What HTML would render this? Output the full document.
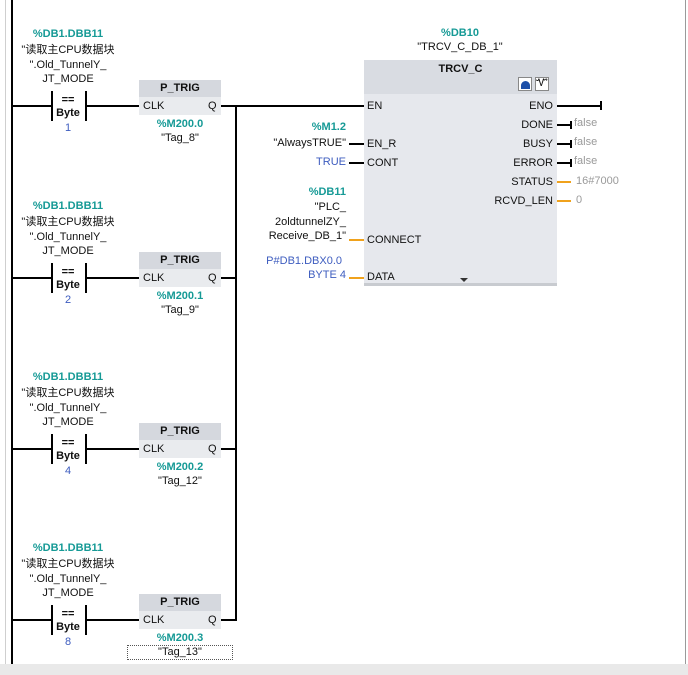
<!DOCTYPE html>
<html><head><meta charset="utf-8"><style>
body{margin:0;width:688px;height:675px;position:relative;background:#fff;overflow:hidden;font-family:"Liberation Sans","Noto Sans CJK SC",sans-serif;font-size:11px;color:#111}
div{position:absolute}
.t{line-height:14px;white-space:nowrap}
.c{text-align:center}
.r{text-align:right}
.teal{color:#169a96;font-weight:bold}
.blue{color:#3d5cbf}
.gray{color:#9a9a9a}
.k{background:#000}
.o{background:#f0a21c}
.b{font-weight:bold}
</style></head><body>
<div style="left:5px;top:0;width:1px;height:664px;background:#cfcfcf"></div>
<div class="k" style="left:11px;top:0;width:2px;height:664px"></div>
<div style="left:685px;top:0;width:1px;height:664px;background:#9a9a9a"></div>
<div style="left:0;top:664px;width:688px;height:11px;background:#e9e9e9"></div>

<!-- vertical Q bus -->
<div class="k" style="left:235px;top:105px;width:2px;height:516px"></div>
<div class="k" style="left:236px;top:105px;width:128px;height:2px"></div>

<!-- rungs -->
<div id="rungs"></div>
<script>
var ys=[106,278,449,620],vals=["1","2","4","8"],ms=["%M200.0","%M200.1","%M200.2","%M200.3"],tags=["\"Tag_8\"","\"Tag_9\"","\"Tag_12\"","\"Tag_13\""];
var h="";
ys.forEach(function(y,i){
 h+='<div class="k" style="left:12px;top:'+(y-1)+'px;width:40px;height:2px"></div>';
 h+='<div class="k" style="left:51px;top:'+(y-15)+'px;width:2px;height:30px"></div>';
 h+='<div class="k" style="left:85px;top:'+(y-15)+'px;width:2px;height:30px"></div>';
 h+='<div class="k" style="left:86px;top:'+(y-1)+'px;width:53px;height:2px"></div>';
 h+='<div class="t c b" style="left:48px;top:'+(y-13)+'px;width:40px">==</div>';
 h+='<div class="t c b" style="left:48px;top:'+(y)+'px;width:40px">Byte</div>';
 h+='<div class="t c blue" style="left:48px;top:'+(y+15)+'px;width:40px">'+vals[i]+'</div>';
 h+='<div class="t c teal" style="left:8px;top:'+(y-79)+'px;width:120px">%DB1.DBB11</div>';
 h+='<div class="t c" style="left:8px;top:'+(y-63)+'px;width:120px">"读取主CPU数据块</div>';
 h+='<div class="t c" style="left:8px;top:'+(y-48)+'px;width:120px">".Old_TunnelY_</div>';
 h+='<div class="t c" style="left:8px;top:'+(y-34)+'px;width:120px">JT_MODE</div>';
 h+='<div style="left:139px;top:'+(y-26)+'px;width:82px;height:17px;background:#d5d8de"></div>';
 h+='<div style="left:139px;top:'+(y-9)+'px;width:82px;height:18px;background:#e9ebee"></div>';
 h+='<div class="t c b" style="left:139px;top:'+(y-25)+'px;width:82px">P_TRIG</div>';
 h+='<div class="t" style="left:143px;top:'+(y-7)+'px">CLK</div>';
 h+='<div class="t" style="left:208px;top:'+(y-7)+'px">Q</div>';
 h+='<div class="k" style="left:221px;top:'+(y-1)+'px;width:15px;height:2px"></div>';
 h+='<div class="t c teal" style="left:130px;top:'+(y+11)+'px;width:100px">'+ms[i]+'</div>';
 h+='<div class="t c" style="left:130px;top:'+(y+25)+'px;width:100px">'+tags[i]+'</div>';
});
h+='<div style="left:127px;top:645px;width:104px;height:13px;border:1px dotted #555"></div>';
document.getElementById("rungs").innerHTML=h;
</script>

<!-- TRCV_C -->
<div class="t c teal" style="left:400px;top:26px;width:120px">%DB10</div>
<div class="t c" style="left:400px;top:40px;width:120px">"TRCV_C_DB_1"</div>
<div style="left:364px;top:60px;width:193px;height:34px;background:#d9dce2"></div>
<div style="left:364px;top:94px;width:193px;height:189px;background:#e6e8ed"></div>
<div style="left:364px;top:283px;width:193px;height:3px;background:#c8cbd0"></div>
<div class="t c b" style="left:364px;top:62px;width:193px">TRCV_C</div>
<div style="left:518px;top:77px;width:14px;height:14px;background:#fff;border:1px solid #888;box-sizing:border-box"><div style="left:2px;top:3px;width:9px;height:8px;background:#1c4fa8;border-radius:5px 5px 0 0"></div></div>
<div style="left:535px;top:77px;width:14px;height:14px;background:#fff;border:1px solid #888;box-sizing:border-box;font-size:10px;line-height:12px;text-align:center">Ꮙ</div>
<div style="left:460px;top:278px;width:0;height:0;border-left:4px solid transparent;border-right:4px solid transparent;border-top:4px solid #333"></div>

<div class="t" style="left:367px;top:99px">EN</div>
<div class="t" style="left:367px;top:137px">EN_R</div>
<div class="t" style="left:367px;top:156px">CONT</div>
<div class="t" style="left:367px;top:233px">CONNECT</div>
<div class="t" style="left:367px;top:270px">DATA</div>
<div class="t r" style="left:450px;top:99px;width:103px">ENO</div>
<div class="t r" style="left:450px;top:118px;width:103px">DONE</div>
<div class="t r" style="left:450px;top:137px;width:103px">BUSY</div>
<div class="t r" style="left:450px;top:156px;width:103px">ERROR</div>
<div class="t r" style="left:450px;top:175px;width:103px">STATUS</div>
<div class="t r" style="left:450px;top:194px;width:103px">RCVD_LEN</div>

<div class="k" style="left:557px;top:105px;width:44px;height:2px"></div>
<div class="k" style="left:600px;top:101px;width:2px;height:9px"></div>
<div class="k" style="left:557px;top:124px;width:14px;height:2px"></div><div class="k" style="left:570px;top:121px;width:2px;height:8px"></div>
<div class="k" style="left:557px;top:143px;width:14px;height:2px"></div><div class="k" style="left:570px;top:140px;width:2px;height:8px"></div>
<div class="k" style="left:557px;top:162px;width:14px;height:2px"></div><div class="k" style="left:570px;top:159px;width:2px;height:8px"></div>
<div class="o" style="left:557px;top:181px;width:14px;height:2px"></div>
<div class="o" style="left:557px;top:200px;width:14px;height:2px"></div>
<div class="t gray" style="left:574px;top:116px">false</div>
<div class="t gray" style="left:574px;top:135px">false</div>
<div class="t gray" style="left:574px;top:154px">false</div>
<div class="t gray" style="left:576px;top:174px">16#7000</div>
<div class="t gray" style="left:576px;top:193px">0</div>

<div class="t teal" style="left:310px;top:120px;width:36px;text-align:right">%M1.2</div>
<div class="t r" style="left:250px;top:136px;width:96px">"AlwaysTRUE"</div>
<div class="k" style="left:349px;top:143px;width:15px;height:2px"></div>
<div class="t r blue" style="left:250px;top:155px;width:96px">TRUE</div>
<div class="k" style="left:349px;top:162px;width:15px;height:2px"></div>
<div class="t r teal" style="left:250px;top:185px;width:96px">%DB11</div>
<div class="t r" style="left:250px;top:200px;width:96px">"PLC_</div>
<div class="t r" style="left:240px;top:215px;width:106px">2oldtunnelZY_</div>
<div class="t r" style="left:240px;top:229px;width:106px">Receive_DB_1"</div>
<div class="o" style="left:349px;top:239px;width:15px;height:2px"></div>
<div class="t r blue" style="left:240px;top:254px;width:102px">P#DB1.DBX0.0</div>
<div class="t r blue" style="left:240px;top:268px;width:106px">BYTE 4</div>
<div class="o" style="left:349px;top:277px;width:15px;height:2px"></div>
</body></html>
